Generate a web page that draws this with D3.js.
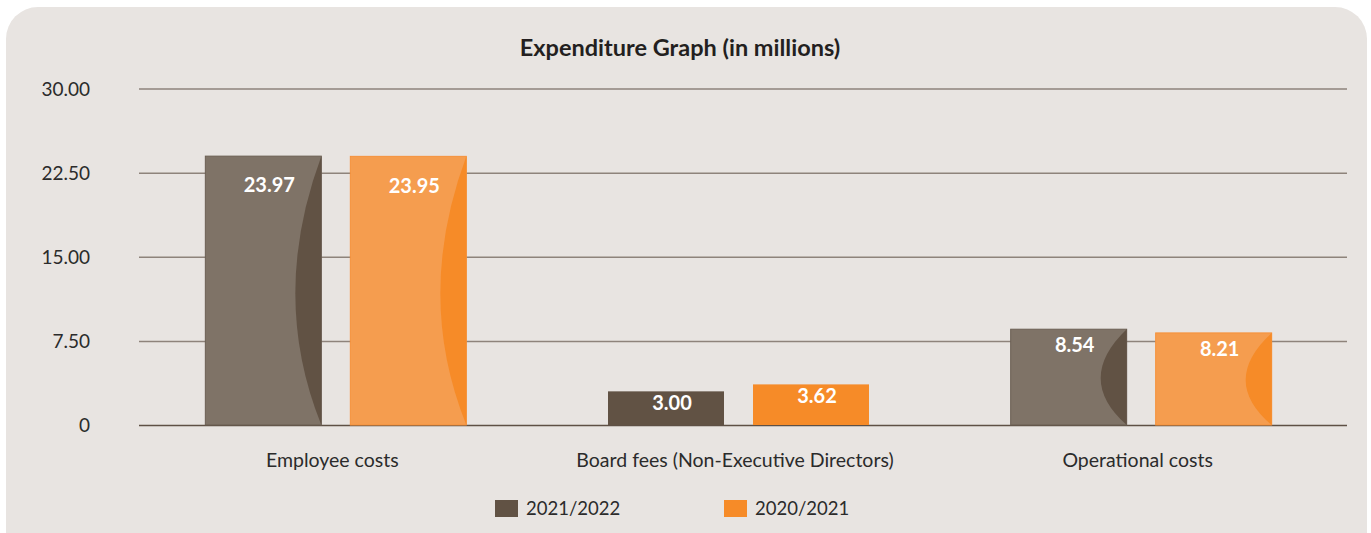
<!DOCTYPE html>
<html>
<head>
<meta charset="utf-8">
<script src="https://cdn.jsdelivr.net/npm/d3@7"></script>
<style>
  body { margin: 0; background: #ffffff; }
  text { font-family: Lato, "Open Sans", sans-serif; }
</style>
</head>
<body>
<svg id="chart" width="1371" height="533"></svg>
<script>
// chart data
const categories = ['Employee costs', 'Board fees (Non-Executive Directors)', 'Operational costs'];
const seriesNames = ['2021/2022', '2020/2021'];
const values2122 = [23.97, 3.00, 8.54];
const values2021 = [23.95, 3.62, 8.21];
const tickValues = [0, 7.5, 15, 22.5, 30];
const tickLabels = ['0', '7.50', '15.00', '22.50', '30.00'];

const lightColors = ['#7f7367', '#f59d4f'];
const darkColors = ['#615244', '#f68b28'];
const borderColors = ['#6b5f53', '#f6913a'];

const svg = d3.select('#chart');

// panel
svg.append('rect')
    .attr('x', 6).attr('y', 7)
    .attr('width', 1361).attr('height', 560)
    .attr('rx', 32).attr('ry', 32)
    .attr('fill', '#e8e4e1');

svg.append('text')
    .attr('x', 680).attr('y', 56)
    .attr('text-anchor', 'middle')
    .attr('font-size', 23.5)
    .attr('font-weight', 700)
    .attr('fill', '#231f20')
    .text('Expenditure Graph (in millions)');

const y = d3.scaleLinear().domain([0, 30]).range([425, 88.5]);

const x0 = d3.scaleBand()
    .domain(categories)
    .range([134, 1342]);

const x1 = d3.scaleBand()
    .domain(seriesNames)
    .range([0, 261])
    .paddingInner(0.2);

// gridlines + y labels
const yAxis = svg.append('g')
    .attr('transform', 'translate(139,0)')
    .call(d3.axisLeft(y)
        .tickValues(tickValues)
        .tickSize(-(1347 - 139))
        .tickFormat((d, i) => tickLabels[i]));
yAxis.select('.domain').remove();
yAxis.selectAll('.tick line')
    .attr('stroke', d => d === 0 ? '#5e5045' : '#8e837b')
    .attr('stroke-width', 1.5);
yAxis.selectAll('.tick text')
    .attr('x', -49)
    .attr('dy', '0.36em')
    .attr('font-size', 19)
    .attr('fill', '#2b2b2b');

const rows = categories.map((c, i) => ({
    category: c,
    bars: [
        { series: seriesNames[0], value: values2122[i], s: 0 },
        { series: seriesNames[1], value: values2021[i], s: 1 }
    ]
}));

const groups = svg.append('g')
    .selectAll('g')
    .data(rows)
    .join('g')
    .attr('transform', d => `translate(${x0(d.category) + x0.bandwidth() / 2 - 130},0)`);

const bar = groups.selectAll('g')
    .data(d => d.bars)
    .join('g');

const bw = x1.bandwidth();

// main bar (short bars are solid dark)
bar.append('rect')
    .attr('x', d => x1(d.series))
    .attr('y', d => y(d.value))
    .attr('width', bw)
    .attr('height', d => y(0) - y(d.value))
    .attr('fill', d => (y(0) - y(d.value)) < 50 ? darkColors[d.s] : lightColors[d.s])
    .attr('stroke', d => (y(0) - y(d.value)) < 50 ? 'none' : borderColors[d.s])
    .attr('stroke-width', 1);

// curved darker shading on right side
const bulge = 26;
bar.filter(d => (y(0) - y(d.value)) >= 50)
    .append('path')
    .attr('d', d => {
        const xr = x1(d.series) + bw;
        const top = y(d.value);
        const bot = y(0);
        const mid = top + (bot - top) * 0.52;
        return `M${xr},${top} Q${xr - 2 * bulge},${mid} ${xr},${bot} Z`;
    })
    .attr('fill', d => darkColors[d.s]);

// value labels
bar.append('text')
    .attr('x', d => x1(d.series) + bw / 2 + 6)
    .attr('y', d => {
        const h = y(0) - y(d.value);
        return y(d.value) + 16 + h * 0.075;
    })
    .attr('text-anchor', 'middle')
    .attr('font-size', 20)
    .attr('font-weight', 700)
    .attr('fill', '#ffffff')
    .text(d => d.value.toFixed(2));

// category labels
svg.append('g')
    .selectAll('text')
    .data(categories)
    .join('text')
    .attr('x', d => x0(d) + x0.bandwidth() / 2 - 3)
    .attr('y', 467)
    .attr('text-anchor', 'middle')
    .attr('font-size', 19.5)
    .attr('fill', '#2b2b2b')
    .text(d => d);

// legend
const legendX = [495, 724];
const legend = svg.append('g')
    .selectAll('g')
    .data(seriesNames)
    .join('g')
    .attr('transform', (d, i) => `translate(${legendX[i]},500)`);
legend.append('rect')
    .attr('width', 23).attr('height', 17)
    .attr('fill', (d, i) => darkColors[i]);
legend.append('text')
    .attr('x', 31).attr('y', 15)
    .attr('font-size', 18.5)
    .attr('fill', '#2b2b2b')
    .text(d => d);
</script>
</body>
</html>
